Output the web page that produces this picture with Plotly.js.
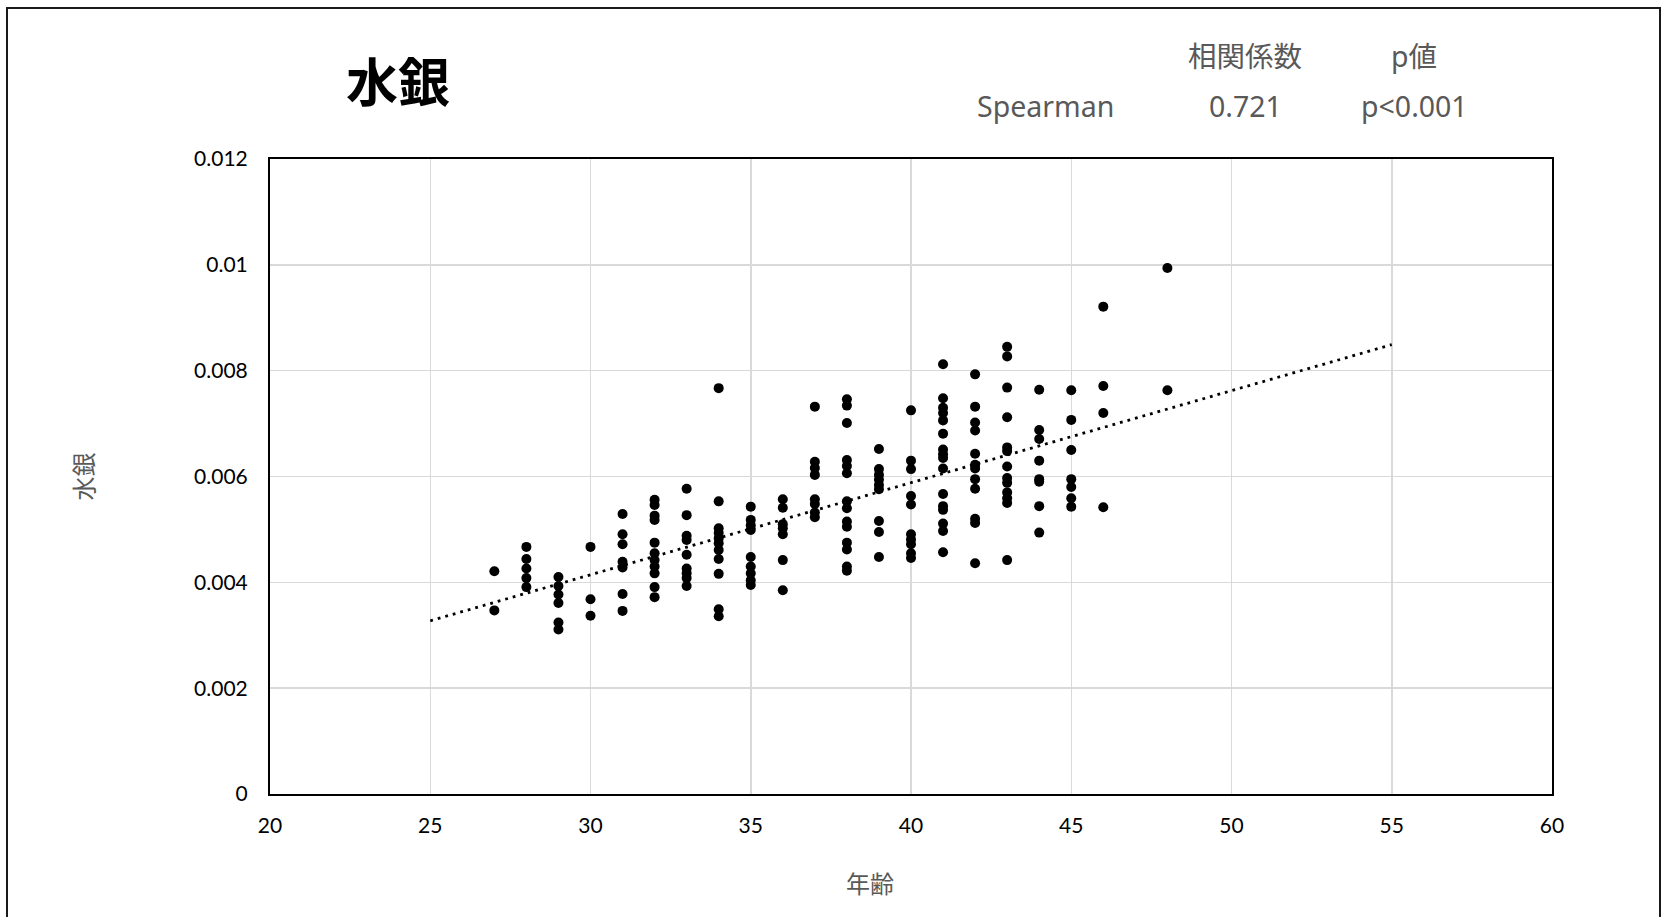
<!DOCTYPE html>
<html>
<head>
<meta charset="utf-8">
<script src="https://cdn.plot.ly/plotly-3.0.1.min.js"></script>
<style>
  html, body { margin: 0; padding: 0; background: #fff; }
  #wrap { position: relative; width: 1664px; height: 917px; overflow: hidden; }
  #chart { width: 1664px; height: 917px; }
  #frame { position: absolute; left: 6px; top: 7px; width: 1655px; height: 940px; border: 2px solid #1a1a1a; pointer-events: none; box-sizing: border-box; }
</style>
</head>
<body>
<div id="wrap">
  <div id="chart"></div>
  <div id="frame"></div>
</div>
<script>
// ---- data ----
const chartTitle = '水銀';
const xTitle = '年齢';
const yTitle = '水銀';

const ageGroups = [27, 28, 29, 30, 31, 32, 33, 34, 35, 36, 37, 38, 39, 40, 41, 42, 43, 44, 45, 46, 48];
const mercuryByAge = [
  [0.00421, 0.00347],
  [0.00467, 0.00444, 0.00426, 0.00408, 0.00391],
  [0.00410, 0.00393, 0.00377, 0.00361, 0.00324, 0.00311],
  [0.00467, 0.00368, 0.00337],
  [0.00529, 0.00491, 0.00472, 0.00439, 0.00428, 0.00378, 0.00346],
  [0.00556, 0.00546, 0.00526, 0.00518, 0.00475, 0.00455, 0.00442, 0.00430, 0.00417, 0.00391, 0.00372],
  [0.00577, 0.00527, 0.00488, 0.00480, 0.00452, 0.00426, 0.00417, 0.00408, 0.00393],
  [0.00767, 0.00553, 0.00502, 0.00493, 0.00483, 0.00474, 0.00461, 0.00444, 0.00416, 0.00349, 0.00336],
  [0.00543, 0.00518, 0.00508, 0.00499, 0.00448, 0.00430, 0.00417, 0.00404, 0.00395],
  [0.00557, 0.00541, 0.00510, 0.00502, 0.00491, 0.00442, 0.00385],
  [0.00732, 0.00628, 0.00616, 0.00603, 0.00557, 0.00548, 0.00532, 0.00523],
  [0.00746, 0.00734, 0.00701, 0.00631, 0.00620, 0.00606, 0.00553, 0.00540, 0.00515, 0.00505, 0.00475, 0.00462, 0.00430, 0.00422],
  [0.00652, 0.00614, 0.00603, 0.00594, 0.00584, 0.00576, 0.00516, 0.00495, 0.00448],
  [0.00725, 0.00630, 0.00614, 0.00563, 0.00547, 0.00491, 0.00481, 0.00472, 0.00455, 0.00446],
  [0.00812, 0.00748, 0.00730, 0.00720, 0.00706, 0.00681, 0.00651, 0.00642, 0.00635, 0.00615, 0.00567, 0.00544, 0.00537, 0.00511, 0.00497, 0.00457],
  [0.00793, 0.00732, 0.00702, 0.00687, 0.00643, 0.00622, 0.00615, 0.00595, 0.00577, 0.00520, 0.00512, 0.00436],
  [0.00845, 0.00827, 0.00768, 0.00712, 0.00655, 0.00648, 0.00619, 0.00597, 0.00588, 0.00570, 0.00559, 0.00550, 0.00442],
  [0.00764, 0.00688, 0.00671, 0.00630, 0.00595, 0.00590, 0.00544, 0.00494],
  [0.00763, 0.00707, 0.00650, 0.00595, 0.00580, 0.00559, 0.00543],
  [0.00921, 0.00771, 0.00720, 0.00542],
  [0.00994, 0.00763]
];

const trendRange = [25, 55];

const xTickVals = [20, 25, 30, 35, 40, 45, 50, 55, 60];
const xTickText = ['20', '25', '30', '35', '40', '45', '50', '55', '60'];
const yTickVals = [0, 0.002, 0.004, 0.006, 0.008, 0.01, 0.012];
const yTickText = ['0', '0.002', '0.004', '0.006', '0.008', '0.01', '0.012'];

const statHeaders = ['相関係数', 'p値'];
const statRow = ['Spearman', '0.721', 'p<0.001'];

// ---- build traces ----
const ages = [];
const mercury = [];
ageGroups.forEach((a, i) => {
  mercuryByAge[i].forEach(v => { ages.push(a); mercury.push(v); });
});

// least-squares linear trendline
const n = ages.length;
const mx = ages.reduce((s, v) => s + v, 0) / n;
const my = mercury.reduce((s, v) => s + v, 0) / n;
let sxy = 0, sxx = 0;
for (let i = 0; i < n; i++) { sxy += (ages[i] - mx) * (mercury[i] - my); sxx += (ages[i] - mx) ** 2; }
const slope = sxy / sxx;
const intercept = my - slope * mx;
const trendX = trendRange.slice();
const trendY = trendX.map(x => intercept + slope * x);

const scatter = {
  type: 'scatter', mode: 'markers', x: ages, y: mercury,
  marker: { color: '#000000', size: 10 },
  hoverinfo: 'x+y', showlegend: false
};
const trend = {
  type: 'scatter', mode: 'lines', x: trendX, y: trendY,
  line: { color: '#000000', width: 2.8, dash: '2.8px,5px' },
  hoverinfo: 'skip', showlegend: false
};

// layout geometry (pixels)
const W = 1664, H = 917;
const M = { l: 270, r: 112, t: 159, b: 123 };
const pw = W - M.l - M.r, ph = H - M.t - M.b;
const px = x => (x - M.l) / pw;
const py = y => (H - M.b - y) / ph;

const statFont = { family: 'Noto Sans, Noto Sans CJK JP', size: 28.5, color: '#595959' };
const annotations = [
  { text: statHeaders[0], x: px(1245), y: py(56) },
  { text: statHeaders[1], x: px(1414), y: py(56) },
  { text: statRow[0], x: px(1045), y: py(106) },
  { text: statRow[1], x: px(1245), y: py(106) },
  { text: statRow[2], x: px(1414), y: py(106) }
].map(a => Object.assign({
  xref: 'paper', yref: 'paper', xanchor: 'center', yanchor: 'middle',
  showarrow: false, font: statFont
}, a));

const axTitleFont = { family: 'Noto Sans CJK JP', size: 24, color: '#595959' };
// x-axis title sits left of the plot centre in the reference
annotations.push({
  text: xTitle, xref: 'paper', yref: 'paper', x: px(870), y: py(882),
  xanchor: 'center', yanchor: 'middle', showarrow: false, font: axTitleFont
});

const tickFont = { family: 'Lato, Liberation Sans, sans-serif', size: 21, color: '#000000' };

const layout = {
  width: W, height: H,
  margin: M,
  paper_bgcolor: '#ffffff', plot_bgcolor: '#ffffff',
  title: {
    text: '<b>' + chartTitle + '</b>',
    font: { family: 'Noto Sans CJK JP', size: 52, color: '#000000' },
    xref: 'container', yref: 'container',
    x: 398 / W, y: 1 - 84 / H, xanchor: 'center', yanchor: 'middle'
  },
  xaxis: {
    range: [20, 60], tickvals: xTickVals, ticktext: xTickText,
    ticks: '', showgrid: true, gridcolor: '#d9d9d9', gridwidth: 1.5,
    zeroline: false, showline: true, mirror: true, linecolor: '#000000', linewidth: 2,
    tickfont: tickFont, ticklabelstandoff: 12,
    fixedrange: true
  },
  yaxis: {
    range: [0, 0.012], tickvals: yTickVals, ticktext: yTickText,
    ticks: '', showgrid: true, gridcolor: '#d9d9d9', gridwidth: 1.5,
    zeroline: false, showline: true, mirror: true, linecolor: '#000000', linewidth: 2,
    tickfont: tickFont, ticklabelstandoff: 16,
    title: { text: yTitle, font: axTitleFont, standoff: 94 },
    fixedrange: true
  },
  annotations: annotations,
  showlegend: false
};

Plotly.newPlot('chart', [trend, scatter], layout, { displayModeBar: false, staticPlot: true });
</script>
</body>
</html>
